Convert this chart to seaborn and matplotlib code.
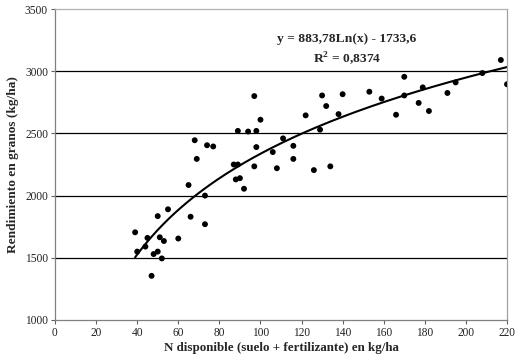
import numpy as np
import pandas as pd
import matplotlib
matplotlib.use("Agg")
import matplotlib.pyplot as plt
import seaborn as sns

n_disponible = [39, 40, 44, 45, 47, 48, 50, 50, 51, 52, 53, 55, 60, 65, 66, 68, 69,
                73, 73, 74, 77, 87, 88, 89, 89, 90, 92, 94, 97, 97, 98, 98, 100,
                106, 108, 111, 116, 116, 122, 126, 129, 130, 132, 134, 138, 140,
                153, 159, 166, 170, 170, 177, 179, 182, 191, 195, 208, 217, 220]
rendimiento = [1705, 1550, 1590, 1660, 1355, 1530, 1835, 1550, 1665, 1495, 1635, 1890,
               1655, 2085, 1830, 2445, 2295, 2000, 1770, 2405, 2395, 2250, 2130,
               2250, 2520, 2140, 2055, 2515, 2800, 2235, 2520, 2390, 2610, 2350,
               2220, 2460, 2400, 2295, 2645, 2205, 2530, 2805, 2720, 2235, 2655,
               2815, 2835, 2780, 2650, 2955, 2805, 2745, 2870, 2680, 2825, 2910,
               2985, 3090, 2895]
coef_a = 883.78
coef_b = -1733.6
x_ticks = list(range(0, 221, 20))
y_ticks = [1000, 1500, 2000, 2500, 3000, 3500]
eq_text = "y = 883,78Ln(x) - 1733,6"
r2_text = "R$^2$ = 0,8374"
x_label = "N disponible (suelo + fertilizante) en kg/ha"
y_label = "Rendimiento en granos (kg/ha)"

sns.set_style("white")
plt.rcParams['font.family'] = ['Liberation Serif', 'DejaVu Serif']
plt.rcParams['mathtext.fontset'] = 'custom'
plt.rcParams['mathtext.rm'] = 'Liberation Serif:bold'
plt.rcParams['mathtext.bf'] = 'Liberation Serif:bold'

df = pd.DataFrame({"x": n_disponible, "y": rendimiento})
fig = plt.figure(figsize=(5.2, 3.63), dpi=100)
ax = fig.add_axes([55/520, 1 - 320/363, (507-55)/520, (320-9)/363])

for yv in y_ticks[1:-1]:
    ax.axhline(yv, color='black', lw=0.9, zorder=0)

xs = np.linspace(min(n_disponible), max(n_disponible), 200)
fit = pd.DataFrame({"x": xs, "y": coef_a * np.log(xs) + coef_b})
sns.lineplot(data=fit, x="x", y="y", ax=ax, color='black', lw=1.5, zorder=2)
sns.scatterplot(data=df, x="x", y="y", ax=ax, color='black', s=18,
                edgecolor='none', zorder=3)

ax.set_xlim(0, 220)
ax.set_ylim(1000, 3500)
ax.set_xticks(x_ticks)
ax.set_yticks(y_ticks)
ax.tick_params(axis='both', which='both', direction='out', length=3, width=0.8,
               color='#606060', labelsize=8.3, labelcolor='#222222', pad=2,
               bottom=True, left=True)
for side, sp in ax.spines.items():
    sp.set_color('#808080')
    sp.set_linewidth(0.9)
ax.spines['top'].set_color('#b0b0b0')
ax.spines['right'].set_color('#a0a0a0')

ax.set_xlabel(x_label, fontsize=9.4, fontweight='bold', labelpad=2)
ax.set_ylabel(y_label, fontsize=9.6, fontweight='bold', labelpad=4)

ax.text(0.646, 0.905, eq_text, transform=ax.transAxes, ha='center', va='center',
        fontsize=9.7, fontweight='bold')
ax.text(0.646, 0.84, r2_text, transform=ax.transAxes, ha='center', va='center',
        fontsize=9.7, fontweight='bold')

fig.savefig("out.png", dpi=100)
